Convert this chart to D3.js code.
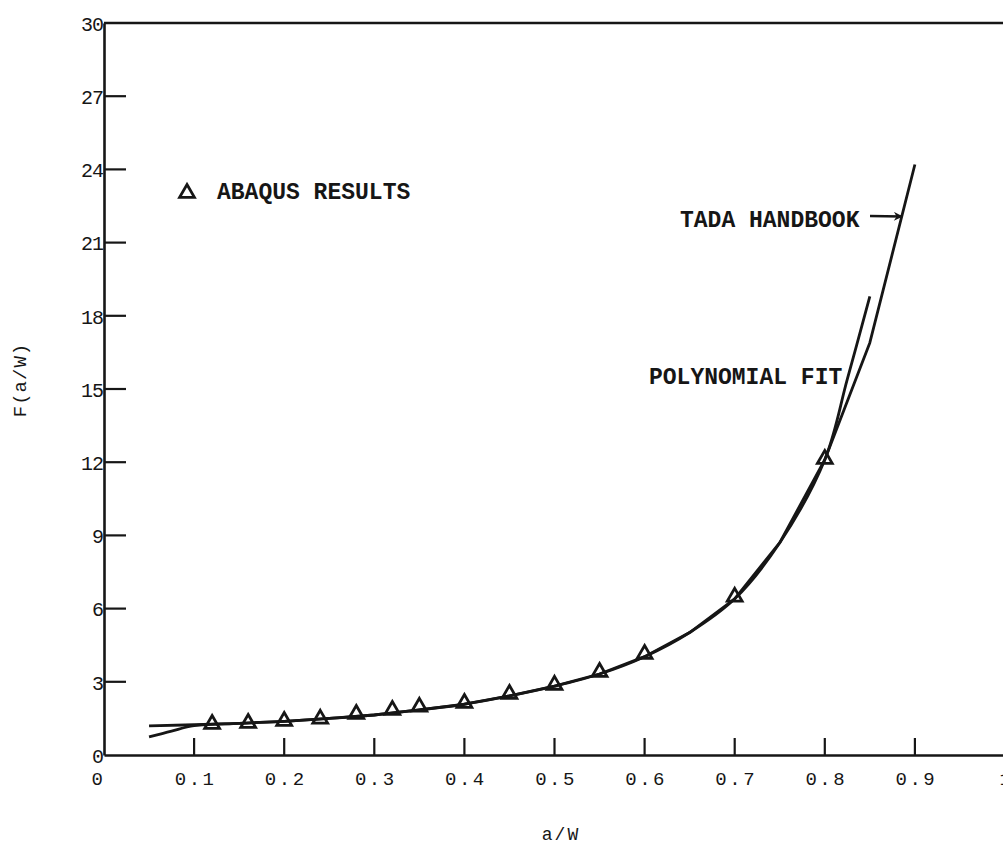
<!DOCTYPE html>
<html>
<head>
<meta charset="utf-8">
<script src="https://cdn.jsdelivr.net/npm/d3@7/dist/d3.min.js"></script>
<style>
  html, body { margin: 0; padding: 0; background: #fff; }
  svg { display: block; }
  text { font-family: "Liberation Mono", "DejaVu Sans Mono", monospace; fill: #161616; }
</style>
</head>
<body>
<svg id="chart" width="1003" height="847"></svg>
<script>
// ---- data ----
const abaqusX = [0.12, 0.16, 0.20, 0.24, 0.28, 0.32, 0.35, 0.40, 0.45, 0.50, 0.55, 0.60, 0.70, 0.80];
const abaqusF = [1.27, 1.31, 1.39, 1.48, 1.68, 1.84, 1.97, 2.13, 2.50, 2.87, 3.40, 4.14, 6.48, 12.13];

const tadaX = [0.05, 0.10, 0.15, 0.20, 0.25, 0.30, 0.35, 0.40, 0.45, 0.50, 0.55, 0.60, 0.65, 0.70, 0.75, 0.80, 0.85, 0.90];
const tadaF = [1.19, 1.24, 1.30, 1.38, 1.50, 1.64, 1.85, 2.08, 2.42, 2.82, 3.32, 4.03, 5.02, 6.40, 8.70, 12.10, 16.90, 24.20];

const polyX = [0.05, 0.075, 0.10, 0.15, 0.20, 0.25, 0.30, 0.35, 0.40, 0.45, 0.50, 0.55, 0.60, 0.65, 0.70, 0.75, 0.80, 0.825, 0.85];
const polyF = [0.74, 0.98, 1.20, 1.30, 1.38, 1.50, 1.64, 1.85, 2.08, 2.42, 2.82, 3.32, 4.03, 5.02, 6.40, 8.70, 12.10, 15.40, 18.80];

const xTicks = [0, 0.1, 0.2, 0.3, 0.4, 0.5, 0.6, 0.7, 0.8, 0.9, 1.0];
const xTickLabels = ["0", "0.1", "0.2", "0.3", "0.4", "0.5", "0.6", "0.7", "0.8", "0.9", "1"];
const yTicks = [0, 3, 6, 9, 12, 15, 18, 21, 24, 27, 30];

// ---- layout ----
const ink = "#161616";
const svg = d3.select("#chart");
const x = d3.scaleLinear().domain([0, 1]).range([104, 1005]);
const y = d3.scaleLinear().domain([0, 30]).range([755, 23]);

// frame: left axis, bottom axis, top border
const yAxis = d3.axisLeft(y).tickValues(yTicks).tickSize(0).tickPadding(3).tickFormat(d3.format("d"));
const gy = svg.append("g").attr("transform", `translate(${x(0)},0)`).call(yAxis);
gy.select(".domain").attr("stroke", ink).attr("stroke-width", 2.6);
gy.selectAll(".tick text").attr("font-size", 20).attr("fill", ink).attr("dy", "0.36em")
  .attr("letter-spacing", -1).attr("dx", 2);

const xAxis = d3.axisBottom(x).tickValues(xTicks).tickSize(0).tickPadding(17)
  .tickFormat((d, i) => xTickLabels[i]);
const gx = svg.append("g").attr("transform", `translate(0,${y(0)})`).call(xAxis);
gx.select(".domain").attr("stroke", ink).attr("stroke-width", 2.6);
gx.selectAll(".tick text").attr("font-size", 19).attr("fill", ink)
  .attr("letter-spacing", 2.5).attr("dx", (d) => d === 0 ? -6 : 1);

// top border
svg.append("line").attr("x1", x(0)).attr("x2", x(1)).attr("y1", y(30)).attr("y2", y(30))
  .attr("stroke", ink).attr("stroke-width", 2.6);

// inward tick marks
svg.append("g").selectAll("line").data(yTicks.filter(d => d > 0 && d < 30)).join("line")
  .attr("x1", x(0)).attr("x2", x(0) + 22).attr("y1", d => y(d)).attr("y2", d => y(d))
  .attr("stroke", ink).attr("stroke-width", 2.2);
svg.append("g").selectAll("line").data(xTicks.filter(d => d > 0 && d < 1)).join("line")
  .attr("x1", d => x(d)).attr("x2", d => x(d)).attr("y1", y(0)).attr("y2", y(0) - 17)
  .attr("stroke", ink).attr("stroke-width", 2.2);

// curves
const tadaLine = d3.line().x(d => x(d[0])).y(d => y(d[1])).curve(d3.curveLinear);
const polyLine = d3.line().x(d => x(d[0])).y(d => y(d[1])).curve(d3.curveCatmullRom.alpha(0.5));

svg.append("path").datum(d3.zip(tadaX, tadaF)).attr("d", tadaLine)
  .attr("fill", "none").attr("stroke", ink).attr("stroke-width", 2.8).attr("stroke-linejoin", "round");
svg.append("path").datum(d3.zip(polyX, polyF)).attr("d", polyLine)
  .attr("fill", "none").attr("stroke", ink).attr("stroke-width", 2.8).attr("stroke-linejoin", "round");

// ABAQUS markers
const tri = d3.symbol().type(d3.symbolTriangle).size(95);
svg.append("g").selectAll("path").data(d3.zip(abaqusX, abaqusF)).join("path")
  .attr("d", tri)
  .attr("transform", d => `translate(${x(d[0])},${y(d[1])})`)
  .attr("fill", "none").attr("stroke", ink).attr("stroke-width", 2.8);

// legend
svg.append("path").attr("d", tri).attr("transform", "translate(187,193)")
  .attr("fill", "none").attr("stroke", ink).attr("stroke-width", 2.8);
svg.append("text").attr("x", 217).attr("y", 199).attr("font-size", 23).attr("font-weight", "bold").text("ABAQUS RESULTS");

// annotations
svg.append("text").attr("x", 680).attr("y", 227).attr("font-size", 23).attr("font-weight", "bold").text("TADA HANDBOOK");
svg.append("text").attr("x", 649).attr("y", 384).attr("font-size", 23).attr("font-weight", "bold").text("POLYNOMIAL FIT");

// arrow to Tada curve
svg.append("defs").append("marker").attr("id", "ah").attr("viewBox", "0 0 10 10")
  .attr("refX", 9).attr("refY", 5).attr("markerWidth", 12).attr("markerHeight", 9)
  .attr("markerUnits", "userSpaceOnUse").attr("orient", "auto")
  .append("path").attr("d", "M0,0 L10,5 L0,10 L3,5 Z").attr("fill", ink);
svg.append("line").attr("x1", 870).attr("y1", 216).attr("x2", 902).attr("y2", 216.5)
  .attr("stroke", ink).attr("stroke-width", 2.4).attr("marker-end", "url(#ah)");

// axis titles
svg.append("text").attr("transform", "translate(26,380) rotate(-90)")
  .attr("text-anchor", "middle").attr("font-size", 19).attr("letter-spacing", 1).text("F(a/W)");
svg.append("text").attr("x", 561).attr("y", 840).attr("text-anchor", "middle")
  .attr("font-size", 18).attr("letter-spacing", 2).text("a/W");
</script>
</body>
</html>
